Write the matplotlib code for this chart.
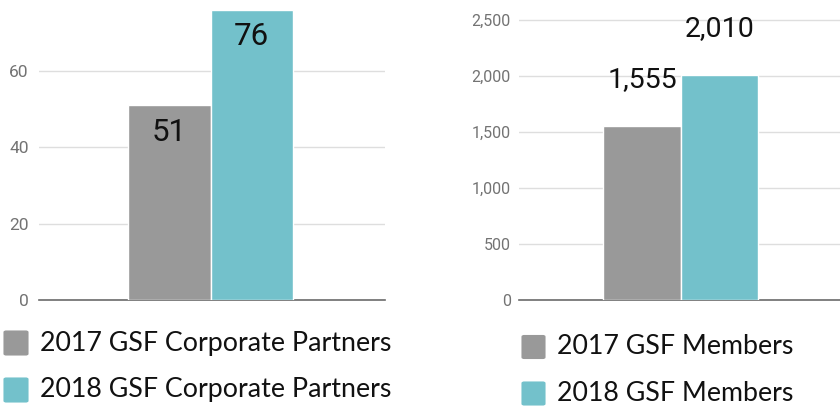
import matplotlib
matplotlib.use("Agg")
import matplotlib.pyplot as plt
from matplotlib.patches import FancyBboxPatch
from matplotlib.ticker import FuncFormatter, FixedLocator

# Data
partner_labels = ["2017 GSF Corporate Partners", "2018 GSF Corporate Partners"]
partner_values = [51, 76]
partner_ticks = [0, 20, 40, 60]

member_labels = ["2017 GSF Members", "2018 GSF Members"]
member_values = [1555, 2010]
member_ticks = [0, 500, 1000, 1500, 2000, 2500]

colors = ["#999999", "#73c1cb"]

W, H = 840, 407
fig = plt.figure(figsize=(W / 100, H / 100), dpi=100)
fig.patch.set_facecolor("white")


def px_axes(x0, x1, ytop, ybot):
    return fig.add_axes([x0 / W, (H - ybot) / H, (x1 - x0) / W, (ybot - ytop) / H])


def style_axes(ax, ticks, tick_size, pad, fmt):
    ax.set_xlim(-1, 1)
    ax.yaxis.set_major_locator(FixedLocator(ticks))
    ax.yaxis.set_major_formatter(FuncFormatter(fmt))
    ax.grid(axis="y", color="#dedede", lw=1)
    ax.set_axisbelow(True)
    for s in ("top", "right", "left"):
        ax.spines[s].set_visible(False)
    ax.spines["bottom"].set_color("#6b6b6b")
    ax.spines["bottom"].set_linewidth(1.2)
    ax.set_xticks([])
    ax.tick_params(axis="y", length=0, pad=pad, labelsize=tick_size,
                   labelcolor="#737373")
    for t in ax.get_yticklabels():
        t.set_fontfamily("Roboto")


def draw_bars(ax, values):
    w = 0.475
    bars = []
    for i, v in enumerate(values):
        b = ax.bar((i - 0.5) * w - 0.008, v, width=w, color=colors[i],
                   edgecolor="white", linewidth=1.0, zorder=3)
        bars.append(b[0])
    return bars


# Left chart: corporate partners
ax1 = px_axes(39, 385, 0, 300)
ax1.set_ylim(0, 300 / 3.817)
style_axes(ax1, partner_ticks, 12.5, 7.5, lambda v, p: f"{int(v)}")
bars1 = draw_bars(ax1, partner_values)
for b, v in zip(bars1, partner_values):
    ax1.annotate(f"{v:,}", (b.get_x() + b.get_width() / 2, v),
                 xytext=(0, -19.5), textcoords="offset points",
                 ha="center", va="center", fontsize=22.5,
                 fontfamily="Roboto", color="#111111", zorder=4)

# Right chart: members
ax2 = px_axes(519, 845, 0, 300)
ax2.set_ylim(0, 300 / 0.112)
style_axes(ax2, member_ticks, 11.5, 6.0, lambda v, p: f"{int(v):,}")
bars2 = draw_bars(ax2, member_values)
for b, v in zip(bars2, member_values):
    ax2.annotate(f"{v:,}", (b.get_x() + b.get_width() / 2, v),
                 xytext=(0, 33.5), textcoords="offset points",
                 ha="center", va="center", fontsize=20.5,
                 fontfamily="Roboto", color="#111111", zorder=4)


# Legends
def legend_entry(x_sq, y_c, size, color, text, x_text):
    fig.patches.append(FancyBboxPatch(
        ((x_sq + 1.5) / W, (H - y_c - size / 2 + 1.5) / H),
        (size - 3) / W, (size - 3) / H,
        boxstyle="round,pad=0.0,rounding_size=0.002",
        transform=fig.transFigure, facecolor=color,
        edgecolor=color, linewidth=1.5, figure=fig))
    fig.text(x_text / W, (H - y_c) / H, text, ha="left", va="center",
             fontsize=19.3, fontfamily="Lato", color="#111111")


for i, (lab, y) in enumerate(zip(partner_labels, [343, 390])):
    legend_entry(3, y, 26, colors[i], lab, 40)
for i, (lab, y) in enumerate(zip(member_labels, [347, 393.5])):
    legend_entry(521, y, 25, colors[i], lab, 557)

fig.savefig("out.png", dpi=100, facecolor="white")
